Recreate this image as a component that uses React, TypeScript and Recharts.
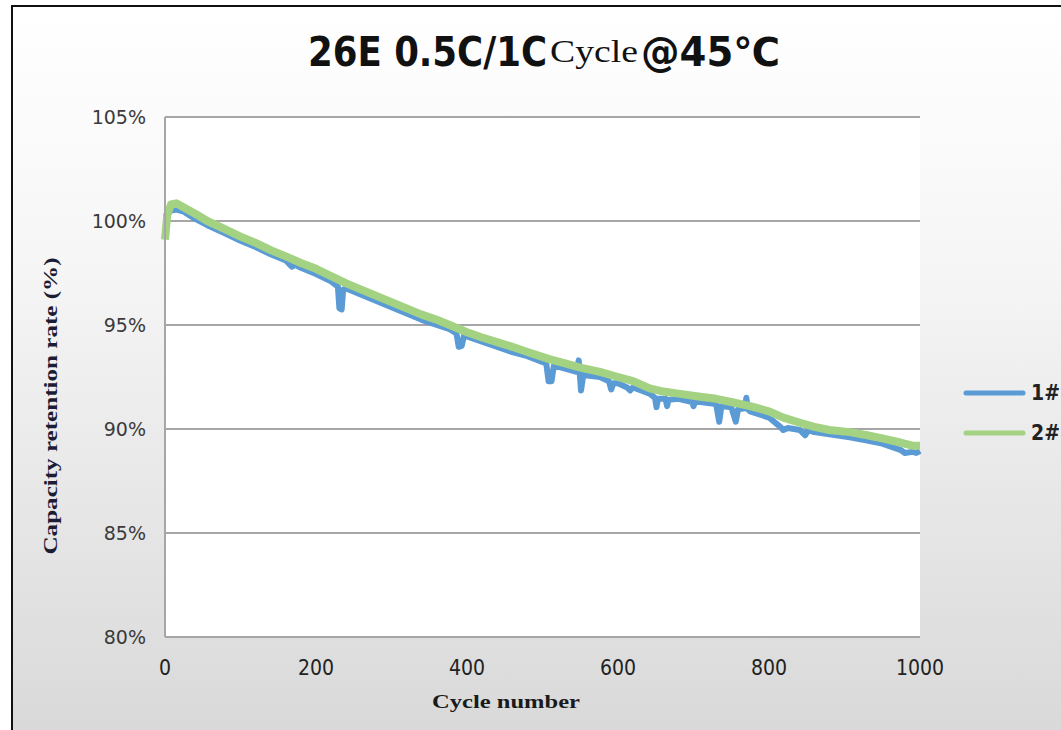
import { CartesianGrid, Legend, Line, LineChart, XAxis, YAxis } from 'recharts'

// cycle life at 45 °C
const blueCycles = [
  0, 8, 15, 25, 40, 56, 80, 100, 120, 140, 160, 168, 172, 180, 200, 220, 229, 231, 234, 236, 240, 260, 280, 300, 320,
  340, 360, 377, 386, 389, 393, 396, 400, 420, 444, 460, 480, 505, 508, 512, 515, 530, 545, 548, 551, 554, 576, 588,
  591, 594, 600, 612, 616, 620, 642, 649, 651, 653, 663, 665, 667, 680, 698, 700, 702, 709, 730, 734, 737, 750, 756,
  759, 768, 770, 772, 775, 800, 815, 819, 825, 841, 848, 852, 860, 880, 907, 930, 950, 974, 980, 990, 995, 1000,
]
const blueValues = [
  100.2, 100.5, 100.55, 100.45, 100.1, 99.8, 99.4, 99.05, 98.75, 98.4, 98.1, 97.8, 97.9, 97.75, 97.45, 97.1, 96.85,
  95.8, 95.75, 96.7, 96.75, 96.45, 96.15, 95.85, 95.55, 95.25, 95.0, 94.8, 94.6, 93.95, 94.0, 94.5, 94.45, 94.2, 93.9,
  93.7, 93.5, 93.15, 92.3, 92.3, 93.05, 92.9, 92.75, 93.3, 91.85, 92.6, 92.5, 92.3, 91.9, 92.2, 92.2, 92.0, 91.85, 92.0,
  91.7, 91.5, 91.05, 91.45, 91.45, 91.1, 91.4, 91.45, 91.3, 91.1, 91.3, 91.3, 91.2, 90.35, 91.1, 91.05, 90.35, 90.95,
  91.0, 91.5, 90.95, 90.85, 90.55, 90.1, 89.95, 90.05, 89.95, 89.7, 89.95, 89.85, 89.75, 89.6, 89.45, 89.3, 89.0,
  88.85, 88.9, 88.85, 88.95,
]

const greenCycles = [
  0, 3, 8, 15, 25, 40, 56, 80, 100, 120, 140, 160, 180, 200, 220, 240, 260, 280, 300, 320, 340, 360, 377, 400, 420, 444,
  460, 480, 510, 530, 550, 576, 600, 620, 642, 660, 680, 709, 730, 750, 775, 800, 819, 841, 860, 880, 907, 930, 950, 974,
  990, 1000,
]
const greenValues = [
  99.1, 100.3, 100.8, 100.85, 100.65, 100.35, 100.0, 99.6, 99.25, 98.95, 98.6, 98.3, 97.98, 97.7, 97.35, 97.0, 96.7,
  96.4, 96.1, 95.8, 95.5, 95.25, 95.0, 94.65, 94.4, 94.13, 93.95, 93.7, 93.35, 93.15, 92.95, 92.75, 92.5, 92.3, 91.95,
  91.8, 91.7, 91.55, 91.45, 91.3, 91.1, 90.85, 90.55, 90.3, 90.1, 89.95, 89.85, 89.7, 89.55, 89.35, 89.2, 89.2,
]

const yTicks = [80, 85, 90, 95, 100, 105]
const xTicks = [0, 200, 400, 600, 800, 1000]

const BLUE = '#5b9bd5'
const GREEN = '#a3d283'

const blueData = blueCycles.map((c, i) => ({ c, v: blueValues[i] }))
const greenData = greenCycles.map((c, i) => ({ c, v: greenValues[i] }))

const NARROW = '"Liberation Sans Narrow", "DejaVu Sans Condensed", sans-serif'

function YTitle() {
  return (
    <text
      x={57}
      y={406}
      transform="rotate(-90 57 406)"
      textAnchor="middle"
      fontFamily="Liberation Serif, serif"
      fontWeight="bold"
      fontSize={18}
      fill="#1c1c34"
      textLength={297}
      lengthAdjust="spacingAndGlyphs"
    >
      Capacity retention rate (%)
    </text>
  )
}

function XTitle() {
  return (
    <text
      x={432}
      y={708}
      fontFamily="Liberation Serif, serif"
      fontWeight="bold"
      fontSize={19}
      fill="#1a1a1a"
      textLength={148}
      lengthAdjust="spacingAndGlyphs"
    >
      Cycle number
    </text>
  )
}

function LegendBox(props: any) {
  const items = props.payload || []
  return (
    <div>
      {items.map((it: any) => (
        <div key={it.value} style={{ display: 'flex', alignItems: 'center', height: 40 }}>
          <svg width={66} height={10}>
            <line x1={4} y1={5} x2={61} y2={5} stroke={it.color} strokeWidth={5} strokeLinecap="round" />
          </svg>
          <span style={{ marginLeft: 3, fontFamily: NARROW, fontWeight: 'bold', fontSize: 21, color: '#222' }}>
            {it.value}
          </span>
        </div>
      ))}
    </div>
  )
}

export default function App() {
  return (
    <div style={{ position: 'absolute', left: 0, top: 0, width: 1061, height: 730, background: '#fff', overflow: 'hidden' }}>
      <div
        style={{
          position: 'absolute',
          left: 11,
          top: 5,
          right: 0,
          bottom: 0,
          borderLeft: '2px solid #111',
          borderTop: '2px solid #111',
          background: 'linear-gradient(#ffffff 0%, #f6f6f6 35%, #d9d9d9 100%)',
        }}
      />
      <svg style={{ position: 'absolute', left: 0, top: 0 }} width={1061} height={100}>
        <text x={308} y={66} fontFamily={NARROW} fontWeight="bold" fontSize={40} fill="#111" textLength={239} lengthAdjust="spacingAndGlyphs">
          26E 0.5C/1C
        </text>
        <text x={550} y={62} fontFamily="Liberation Serif, serif" fontSize={31} fill="#111" textLength={88} lengthAdjust="spacingAndGlyphs">
          Cycle
        </text>
        <text x={641} y={66} fontFamily={NARROW} fontWeight="bold" fontSize={40} fill="#111" textLength={139} lengthAdjust="spacingAndGlyphs">
          @45℃
        </text>
      </svg>
      <div style={{ position: 'absolute', left: 0, top: 0 }}>
        <LineChart width={1061} height={730} margin={{ top: 117, right: 141, left: 105, bottom: 63 }}>
          <CartesianGrid vertical={false} stroke="#a6a6a6" strokeWidth={2} fill="#ffffff" />
          <XAxis
            dataKey="c"
            type="number"
            domain={[0, 1000]}
            ticks={xTicks}
            height={30}
            tickLine={false}
            tickMargin={17}
            axisLine={{ stroke: '#a6a6a6', strokeWidth: 2 }}
            tick={{ fontFamily: NARROW, fontSize: 21, fill: '#222' }}
            label={<XTitle />}
          />
          <YAxis
            dataKey="v"
            type="number"
            domain={[80, 105]}
            ticks={yTicks}
            width={60}
            tickLine={false}
            tickMargin={13}
            axisLine={{ stroke: '#a6a6a6', strokeWidth: 2 }}
            tickFormatter={(v: number) => `${v}%`}
            tick={{ fontFamily: 'DejaVu Sans, sans-serif', fontSize: 19, fill: '#3a3a3a' }}
            label={<YTitle />}
          />
          <Legend
            layout="vertical"
            align="center"
            verticalAlign="middle"
            wrapperStyle={{ left: 962, top: 373, width: 99 }}
            content={<LegendBox />}
          />
          <Line
            data={blueData}
            dataKey="v"
            name="1#"
            type="linear"
            stroke={BLUE}
            strokeWidth={6}
            strokeLinejoin="round"
            dot={false}
            isAnimationActive={false}
          />
          <Line
            data={greenData}
            dataKey="v"
            name="2#"
            type="linear"
            stroke={GREEN}
            strokeWidth={8}
            strokeLinejoin="round"
            dot={false}
            isAnimationActive={false}
          />
        </LineChart>
      </div>
    </div>
  )
}
